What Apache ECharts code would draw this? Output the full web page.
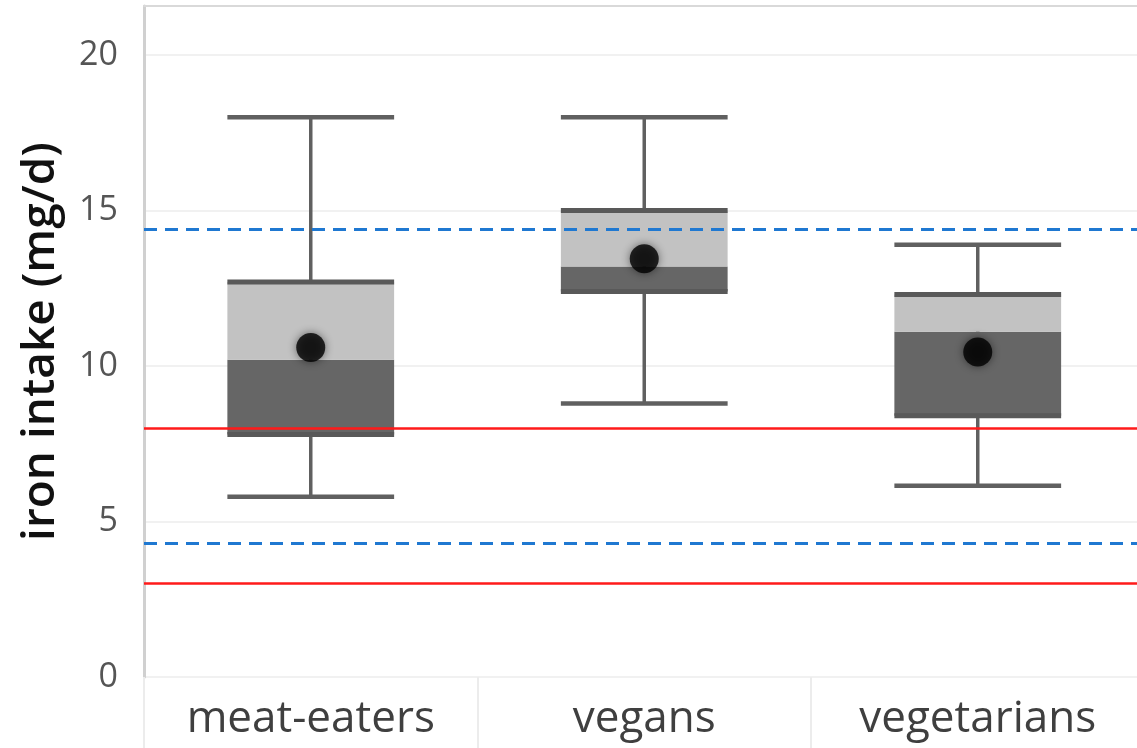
<!DOCTYPE html>
<html>
<head>
<meta charset="utf-8">
<script src="https://cdn.jsdelivr.net/npm/echarts@6/dist/echarts.min.js"></script>
<style>
  html, body { margin: 0; padding: 0; background: #ffffff; }
  #chart { width: 1137px; height: 748px; }
</style>
</head>
<body>
<div id="chart"></div>
<script>
// Iron intake by diet group (mg/d): box-and-whisker summary per group
const categories = ['meat-eaters', 'vegans', 'vegetarians'];
const whiskerLow  = [5.8, 8.8, 6.15];
const quartile1   = [7.8, 12.4, 8.4];
const medians     = [10.2, 13.2, 11.1];
const quartile3   = [12.7, 15.0, 12.3];
const whiskerHigh = [18.0, 18.0, 13.9];
const means       = [10.6, 13.45, 10.45];

// Reference intake levels drawn across the whole plot
const blueDashedLevels = [14.4, 4.3];
const redSolidLevels   = [8, 3];

// Y axis tick labels
const yTickValues = [0, 5, 10, 15, 20];

const FONT = "'Open Sans', 'Noto Sans', sans-serif";

const boxData = categories.map((c, i) => [
  i, whiskerLow[i], quartile1[i], medians[i], quartile3[i], whiskerHigh[i]
]);

function renderBox(params, api) {
  const idx = api.value(0);
  const lo = api.coord([idx, api.value(1)]);
  const q1 = api.coord([idx, api.value(2)]);
  const md = api.coord([idx, api.value(3)]);
  const q3 = api.coord([idx, api.value(4)]);
  const hi = api.coord([idx, api.value(5)]);
  const band = api.size([1, 0])[0];
  const w = band * 0.5;
  const x0 = lo[0] - w / 2;
  const lineColor = '#606060';
  return {
    type: 'group',
    children: [
      // whisker stem
      { type: 'line', shape: { x1: lo[0], y1: lo[1], x2: hi[0], y2: hi[1] },
        style: { stroke: lineColor, lineWidth: 3.5 } },
      // caps
      { type: 'line', shape: { x1: x0, y1: lo[1], x2: x0 + w, y2: lo[1] },
        style: { stroke: lineColor, lineWidth: 4.5 } },
      { type: 'line', shape: { x1: x0, y1: hi[1], x2: x0 + w, y2: hi[1] },
        style: { stroke: lineColor, lineWidth: 4.5 } },
      // lower half of the box (Q1 to median)
      { type: 'rect', shape: { x: x0, y: md[1], width: w, height: q1[1] - md[1] },
        style: { fill: '#666666' } },
      // upper half of the box (median to Q3)
      { type: 'rect', shape: { x: x0, y: q3[1], width: w, height: md[1] - q3[1] },
        style: { fill: '#c2c2c2' } },
      // box edges at the quartiles
      { type: 'line', shape: { x1: x0, y1: q3[1], x2: x0 + w, y2: q3[1] },
        style: { stroke: '#595959', lineWidth: 5 } },
      { type: 'line', shape: { x1: x0, y1: q1[1], x2: x0 + w, y2: q1[1] },
        style: { stroke: '#595959', lineWidth: 5 } }
    ]
  };
}

function levelLines(levels) {
  return levels.map(v => ({ yAxis: v }));
}

const chart = echarts.init(document.getElementById('chart'), null, { renderer: 'canvas' });

chart.setOption({
  animation: false,
  backgroundColor: '#ffffff',
  // the third category runs slightly past the right edge of the page
  grid: {
    left: 144, width: 1000.5, top: 6, bottom: 71,
    containLabel: false, outerBoundsMode: 'none'
  },
  xAxis: [
    {
      type: 'category',
      data: categories,
      position: 'bottom',
      boundaryGap: true,
      axisLine: { show: false },
      axisTick: { show: true, length: 72, lineStyle: { color: '#ececec', width: 2 } },
      axisLabel: { color: '#3f3f3f', fontSize: 44, fontFamily: FONT, margin: 20 },
      splitLine: { show: false }
    },
    {
      type: 'category',
      data: categories,
      position: 'top',
      axisLine: { show: true, lineStyle: { color: '#d9d9d9', width: 2 } },
      axisTick: { show: false },
      axisLabel: { show: false },
      splitLine: { show: false }
    }
  ],
  yAxis: {
    type: 'value',
    min: 0,
    max: 21.58,
    interval: 5,
    name: 'iron intake (mg/d)',
    nameLocation: 'middle',
    nameGap: 80,
    nameRotate: 90,
    nameTextStyle: { color: '#111111', fontSize: 46, fontWeight: 600, fontFamily: FONT },
    axisLine: { show: true, lineStyle: { color: '#d0d0d0', width: 3 } },
    axisTick: { show: false },
    axisLabel: {
      color: '#555555', fontSize: 34, fontFamily: FONT, margin: 26,
      formatter: v => (yTickValues.includes(v) ? String(v) : '')
    },
    splitLine: { show: true, lineStyle: { color: '#f1f1f1', width: 2 } }
  },
  series: [
    {
      type: 'custom',
      name: 'box',
      renderItem: renderBox,
      encode: { x: 0, y: [1, 2, 3, 4, 5] },
      data: boxData,
      z: 2
    },
    {
      type: 'line',
      name: 'levels',
      data: [],
      z: 3,
      markLine: {
        silent: true,
        symbol: 'none',
        label: { show: false },
        data: [
          ...levelLines(blueDashedLevels).map(d => ({
            ...d, lineStyle: { color: '#1f78d1', width: 3, type: [13, 8] }
          })),
          ...levelLines(redSolidLevels).map(d => ({
            ...d, lineStyle: { color: '#ff1a1a', width: 2.5, type: 'solid' }
          }))
        ]
      }
    },
    {
      type: 'scatter',
      name: 'mean',
      data: means.map((m, i) => [i, m]),
      symbol: 'circle',
      symbolSize: 29,
      itemStyle: { color: '#000000', shadowBlur: 8, shadowColor: 'rgba(0,0,0,0.6)' },
      z: 4
    }
  ]
});
</script>
</body>
</html>
